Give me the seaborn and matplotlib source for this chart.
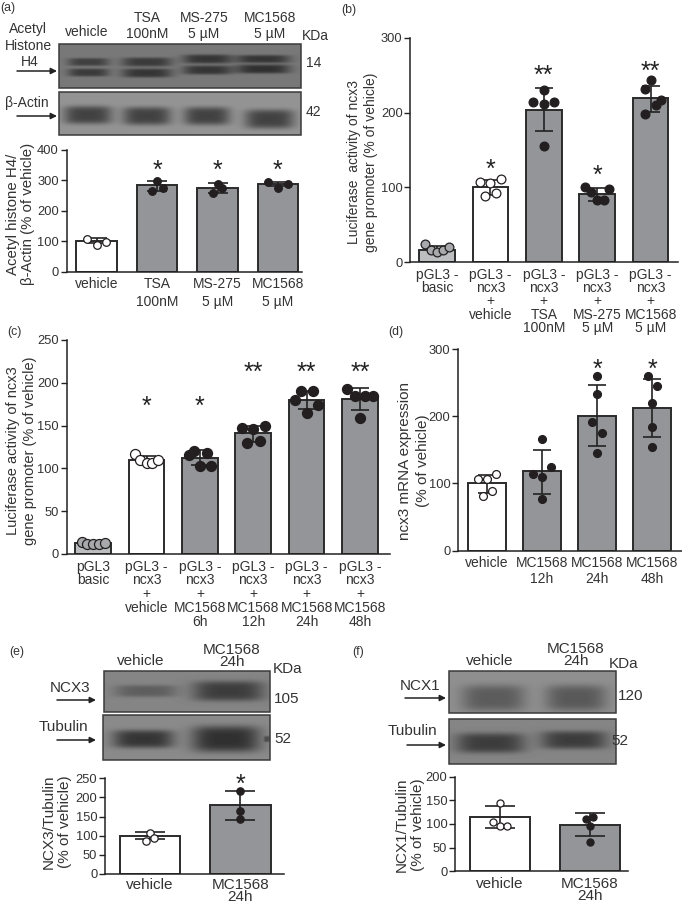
import numpy as np
import pandas as pd
import seaborn as sns
import matplotlib.pyplot as plt
from matplotlib.patches import Rectangle

W, H = 682, 902
DARK = "#2b2b2b"
TXT = "#333333"
GRAY = "#939598"
LIGHT = "#bcbec0"

# panel (a)
a_labels = ["vehicle", "TSA\n100nM", "MS-275\n5 µM", "MC1568\n5 µM"]
a_means = [102, 283, 276, 287]
a_low = [94, 264, 259, 281]
a_high = [110, 299, 292, 295]
a_points = [[107, 86, 98], [297, 265, 276], [287, 257, 275], [293, 276, 286]]
a_jitter = [[-.16, 0, .16], [0, -.08, .09], [0, -.07, .08], [-.16, 0, .16]]
a_stars = ["", "*", "*", "*"]
a_star_y = [0, 357, 357, 357]

# panel (b)
b_labels = ["pGL3 -\nbasic", "pGL3 -\nncx3\n+\nvehicle", "pGL3 -\nncx3\n+\nTSA\n100nM",
            "pGL3 -\nncx3\n+\nMS-275\n5 µM", "pGL3 -\nncx3\n+\nMC1568\n5 µM"]
b_means = [17, 100, 204, 91, 219]
b_low = [13, 90, 175, 82, 201]
b_high = [22, 110, 233, 99, 236]
b_points = [[24.5, 17, 14, 16.5, 21], [107, 106, 111, 93, 88], [214, 230, 211, 214.5, 156],
            [101, 94, 98, 83, 83], [243, 231, 217, 210.5, 198]]
b_jitter = [[-.23, -.11, 0, .11, .23], [-.19, 0, .2, .1, -.1], [-.2, 0, 0, .2, 0],
            [-.23, -.11, .23, 0, .12], [0, -.11, .2, .1, -.1]]
b_stars = ["", "*", "**", "*", "**"]
b_star_y = [0, 134, 260, 126, 265]

# panel (c)
c_labels = ["pGL3\nbasic", "pGL3 -\nncx3\n+\nvehicle", "pGL3 -\nncx3\n+\nMC1568\n6h",
            "pGL3 -\nncx3\n+\nMC1568\n12h", "pGL3 -\nncx3\n+\nMC1568\n24h", "pGL3 -\nncx3\n+\nMC1568\n48h"]
c_means = [12.5, 110, 112, 141, 180, 181.5]
c_low = [11, 105, 104, 131, 169, 168]
c_high = [14, 115, 121, 150, 190, 194]
c_points = [[13.6, 12, 11.7, 12, 12.9], [117, 109.5, 106, 106, 110], [115.6, 120, 118, 103, 103],
            [147, 145.6, 150, 130, 132], [180, 190, 190, 174.5, 165], [193, 184, 184, 185, 158.5]]
c_jitter = [[-.22, -.11, 0, .11, .22], [-.22, -.125, 0, .11, .22], [-.21, -.12, .125, 0, .21],
            [-.21, 0, .22, -.12, .125], [-.21, -.11, .12, .22, 0], [-.24, -.09, .09, .25, 0]]
c_stars = ["", "*", "*", "**", "**", "**"]
c_star_y = [0, 182, 182, 221, 221, 221]

# panel (d)
d_labels = ["vehicle", "MC1568\n12h", "MC1568\n24h", "MC1568\n48h"]
d_means = [100, 118, 201, 212.7]
d_low = [86, 85, 155, 168.6]
d_high = [112.5, 150, 246, 256]
d_points = [[106.6, 106.6, 113.5, 89, 81], [166.6, 114, 124, 110, 77],
            [260, 233.5, 192, 174.5, 146], [260, 245, 219, 184, 154.6]]
d_jitter = [[-.16, 0, .17, .09, -.07], [0, -.16, .17, 0, 0],
            [0, 0, -.085, .085, 0], [-.08, .085, 0, 0, 0]]
d_stars = ["", "", "*", "*"]
d_star_y = [0, 0, 281, 282]

# panel (e)
e_labels = ["vehicle", "MC1568\n24h"]
e_means = [100, 179]
e_low = [90.6, 141]
e_high = [111, 217]
e_points = [[106, 94, 87], [217, 165, 144]]
e_jitter = [[0, .04, -.04], [0, 0, 0]]
e_stars = ["", "*"]
e_star_y = [0, 254]

# panel (f)
f_labels = ["vehicle", "MC1568\n24h"]
f_means = [114, 98.6]
f_low = [91.5, 74.6]
f_high = [137, 122.5]
f_points = [[144, 105, 96.5, 96.5], [115, 110, 96.5, 62]]
f_jitter = [[0, -.08, 0, .08], [.04, -.04, 0, 0]]
f_stars = ["", ""]
f_star_y = [0, 0]

sns.set_theme(style="ticks")
plt.rcParams["font.family"] = ["Liberation Sans", "DejaVu Sans"]
plt.rcParams["text.color"] = TXT
plt.rcParams["axes.labelcolor"] = TXT

fig = plt.figure(figsize=(W / 100, H / 100), dpi=100, facecolor="white")

# overlay in pixel coordinates for the blots and loose labels
ov = fig.add_axes([0, 0, 1, 1])
ov.axis("off")


def blot(x0, x1, y0, y1, bg, bands):
    xx, yy = np.meshgrid(np.arange(x0, x1) + .5, np.arange(y0, y1) + .5)
    img = np.full(xx.shape, float(bg))
    for bx0, bx1, yc, hh, amp in bands:
        xc, wx = (bx0 + bx1) / 2, (bx1 - bx0) / 2
        img -= amp * np.exp(-((xx - xc) / wx) ** 4) * np.exp(-((yy - yc) / hh) ** 4)
    ov.imshow(img, extent=(x0, x1, y1, y0), cmap="gray", vmin=0, vmax=1, aspect="auto", interpolation="bilinear")
    ov.add_patch(Rectangle((x0, y0), x1 - x0, y1 - y0, fill=False, ec="#3a3a3a", lw=1.1))


blot(59, 301, 44, 88, .47, [(68, 109, 62, 4, .22), (68, 109, 72.5, 4, .24), (122, 172, 62, 4.5, .24), (122, 172, 73, 4.5, .26),
                            (183, 232, 59, 4.5, .26), (183, 232, 70, 4.5, .26), (236, 290, 59, 4, .26), (236, 290, 69, 4.5, .28)])
blot(59, 301, 92, 135, .58, [(64, 112, 115, 9, .32), (123, 171, 116, 9, .32), (184, 230, 116, 9, .32), (245, 294, 119, 9.5, .32)])
blot(104, 270, 671, 712, .52, [(115, 177, 691, 6, .15), (193, 264, 691, 10, .28)])
blot(103, 270, 715, 760, .54, [(113, 174, 739, 9, .33), (192, 260, 739, 13, .35), (264, 272, 739, 3, .2)])
blot(449, 616, 671, 713, .56, [(462, 525, 698, 13, .2), (546, 606, 698, 13, .21)])
blot(449, 616, 719, 764, .52, [(456, 525, 743, 10, .28), (541, 607, 740, 9, .28)])
ov.set_xlim(0, W)
ov.set_ylim(H, 0)


def note(x, y, s, size=10, ls=1.2):
    ov.text(x, y, s, ha="center", va="center", fontsize=size, linespacing=ls)


def arrow(x0, x1, y):
    ov.annotate("", xy=(x1, y), xytext=(x0, y),
                arrowprops=dict(arrowstyle="-|>", color="#222222", lw=1.1, mutation_scale=9, shrinkA=0, shrinkB=0))


def panel(box, c0, step, ymax, yticks, labels, means, low, high, points, jitter, stars, star_y,
          ylabel, lab_xy, lab_size, lab_ls, dot, cap, width=.67, ls=.93, tick_size=10, pad=4):
    left, top, right, bottom = box
    ax = fig.add_axes([left / W, 1 - bottom / H, (right - left) / W, (bottom - top) / H])
    ax.patch.set_visible(False)
    df = pd.DataFrame({"group": labels, "value": means})
    colors = [LIGHT if "basic" in s else "white" if "vehicle" in s else GRAY for s in labels]
    sns.barplot(data=df, x="group", y="value", hue="group", palette=colors, legend=False, width=width, saturation=1,
                edgecolor=DARK, linewidth=1.4, errorbar=None, ax=ax, zorder=1)
    x = np.arange(len(labels))
    lo, hi = np.array(low), np.array(high)
    ax.errorbar(x, (lo + hi) / 2, yerr=(hi - lo) / 2, fmt="none", ecolor="#222222", elinewidth=1.2, capsize=cap, capthick=1.2, zorder=3)
    for i, s in enumerate(labels):
        fill = "#a7a9ac" if "basic" in s else "white" if "vehicle" in s else "#231f20"
        sns.scatterplot(x=np.array(jitter[i]) + i, y=points[i], s=dot, color=fill, edgecolor="#231f20", linewidth=.9,
                        ax=ax, zorder=4, clip_on=False, legend=False)
        if stars[i]:
            ax.annotate(stars[i], (i, star_y[i]), xytext=(0, -11), textcoords="offset points", annotation_clip=False,
                        ha="center", va="baseline", fontsize=18, color="#222222")
    ax.set_xlim((left - c0) / step, (right - c0) / step)
    ax.set_ylim(0, ymax)
    ax.set_yticks(yticks)
    ax.set_xticks(x)
    ax.set_xticklabels(labels, linespacing=ls)
    ax.set_xlabel("")
    ax.set_ylabel(ylabel, fontsize=lab_size, linespacing=lab_ls)
    ax.yaxis.set_label_coords(lab_xy[0], lab_xy[1], transform=ov.transData)
    ax.tick_params(axis="x", length=0, pad=pad, labelsize=tick_size, labelcolor=TXT)
    ax.tick_params(axis="y", length=4, width=1, pad=1.5, labelsize=9.3, labelcolor=TXT, color="#222222")
    sns.despine(ax=ax)
    for side in ("left", "bottom"):
        ax.spines[side].set_linewidth(1.1)
        ax.spines[side].set_color("#222222")
    return ax


panel((66.5, 149.7, 302, 271.7), 96.7, 60.4, 400, [0, 100, 200, 300, 400], a_labels, a_means, a_low, a_high, a_points, a_jitter,
      a_stars, a_star_y, "Acetyl histone H4/\nβ-Actin (% of vehicle)", (35, 214), 10.8, 1.13, 30, 7, ls=1.3)
panel((410.3, 37.7, 678, 262.3), 437, 53.4, 300, [0, 100, 200, 300], b_labels, b_means, b_low, b_high, b_points, b_jitter,
      b_stars, b_star_y, "Luciferase  activity of ncx3\ngene promoter (% of vehicle)", (378, 162), 10, 1.28, 40, 6.5)
panel((66.7, 340, 390, 554), 93.3, 53.33, 250, [0, 50, 100, 150, 200, 250], c_labels, c_means, c_low, c_high, c_points, c_jitter,
      c_stars, c_star_y, "Luciferase activity of ncx3\ngene promoter (% of vehicle)", (37, 451), 10.5, 1.25, 52, 6.5, ls=.98)
panel((458, 349, 682, 550.7), 486.7, 55.2, 300, [0, 100, 200, 300], d_labels, d_means, d_low, d_high, d_points, d_jitter,
      d_stars, d_star_y, "ncx3 mRNA expression\n(% of vehicle)", (430, 461), 11, 1.38, 32, 6.2, width=.69, ls=1.2)
panel((105, 778.3, 284, 874), 150, 90.3, 250, [0, 50, 100, 150, 200, 250], e_labels, e_means, e_low, e_high, e_points, e_jitter,
      e_stars, e_star_y, "NCX3/Tubulin\n(% of vehicle)", (72, 822), 11, 1.24, 28, 10.8, ls=.78, tick_size=11, pad=3)
panel((455, 776.7, 627.7, 871.3), 499.7, 90, 200, [0, 50, 100, 150, 200], f_labels, f_means, f_low, f_high, f_points, f_jitter,
      f_stars, f_star_y, "NCX1/Tubulin\n(% of vehicle)", (425, 825), 11, 1.24, 26, 10.8, ls=.8, tick_size=11, pad=4)

# panel letters
for x, y, s in [(8, 8, "(a)"), (349, 10, "(b)"), (14, 332, "(c)"), (396, 332, "(d)"), (17, 652, "(e)"), (358, 652, "(f)")]:
    note(x, y, s, size=8.8)

# blot labels, panel (a)
note(28, 29, "Acetyl")
note(28, 46, "Histone")
note(30, 62, "H4")
note(87, 32, "vehicle")
note(147, 26, "TSA\n100nM")
note(204, 26, "MS-275\n5 µM")
note(270, 26, "MC1568\n5 µM")
note(315, 36, "KDa")
note(314, 63, "14")
note(27, 103, "β-Actin")
note(313, 112, "42")
arrow(17, 57, 71)
arrow(17, 57, 116)

# blot labels, panel (e)
note(141, 661, "vehicle", size=11)
note(232, 656, "MC1568\n24h", size=11, ls=.86)
note(288, 669, "KDa", size=11)
note(70, 688, "NCX3", size=11)
note(287, 699, "105", size=11)
note(63, 727, "Tubulin", size=11)
note(283, 739, "52", size=11)
arrow(57, 96, 700)
arrow(57, 96, 740)

# blot labels, panel (f)
note(490, 661, "vehicle", size=11)
note(576, 655, "MC1568\n24h", size=11, ls=.86)
note(624, 664, "KDa", size=11)
note(420, 686, "NCX1", size=11)
note(631, 696, "120", size=11)
note(412, 731, "Tubulin", size=11)
note(620, 741, "52", size=11)
arrow(405, 446, 698)
arrow(407, 446, 745)

fig.savefig("out.png", dpi=100)
